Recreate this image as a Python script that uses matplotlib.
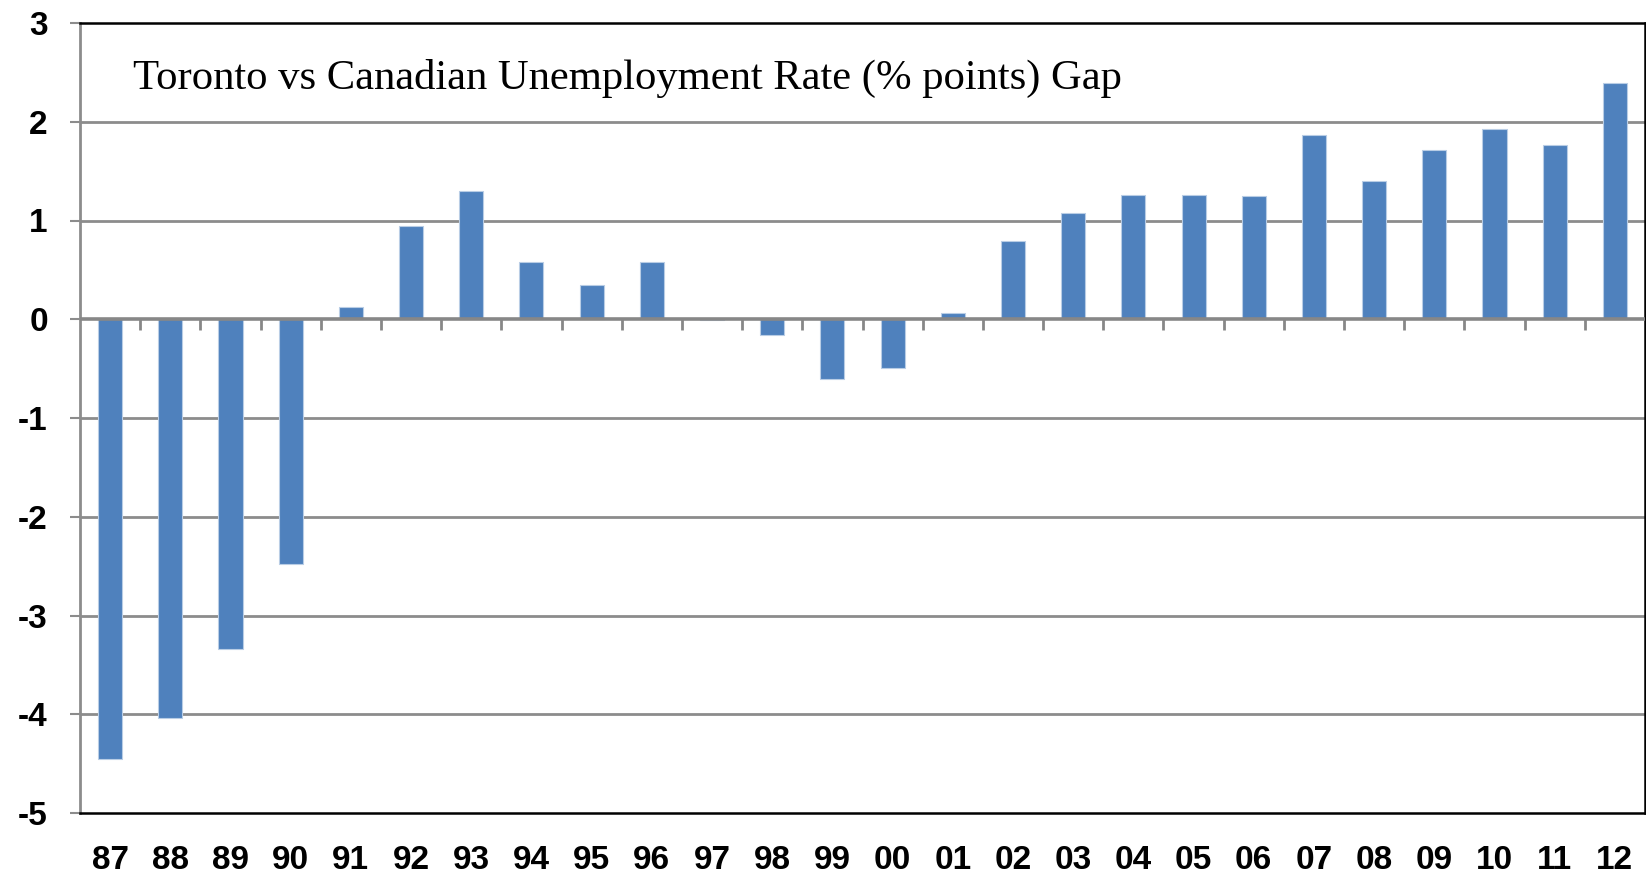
import numpy as np
import matplotlib
matplotlib.use('Agg')
import matplotlib.pyplot as plt

# 年份标签与失业率差值（百分点）
years = ['87', '88', '89', '90', '91', '92', '93', '94', '95', '96', '97', '98', '99',
         '00', '01', '02', '03', '04', '05', '06', '07', '08', '09', '10', '11', '12']
gap = [-4.45, -4.04, -3.34, -2.48, 0.12, 0.94, 1.30, 0.58, 0.35, 0.58, -0.01, -0.16, -0.61,
       -0.49, 0.06, 0.79, 1.08, 1.26, 1.26, 1.25, 1.87, 1.40, 1.71, 1.93, 1.76, 2.39]
y_ticks = [-5, -4, -3, -2, -1, 0, 1, 2, 3]
title = 'Toronto vs Canadian Unemployment Rate (% points) Gap'

fig = plt.figure(figsize=(16.46, 8.77), dpi=100)
ax = fig.add_axes([80 / 1646, 1 - 813 / 877, 1565 / 1646, 790 / 877])

x = np.arange(len(years))
ax.bar(x, gap, width=0.4, color='#4F81BD', edgecolor='#B9CDE5', linewidth=0.8, zorder=3)

ax.set_xlim(-0.5, len(years) - 0.5)
ax.set_ylim(min(y_ticks), max(y_ticks))

# 网格线
for v in y_ticks[1:-1]:
    if v != 0:
        ax.axhline(v, color='#8C8C8C', linewidth=2, zorder=1)
ax.axhline(0, color='#878787', linewidth=2.6, zorder=4)
# 零线上的分类刻度
ax.vlines(x[:-1] + 0.5, 0, -0.11, color='#878787', linewidth=2, zorder=4)

# 边框
for s in ['top', 'right', 'bottom']:
    ax.spines[s].set_color('black')
    ax.spines[s].set_linewidth(1.8)
ax.spines['left'].set_color('#8C8C8C')
ax.spines['left'].set_linewidth(2)

ax.set_yticks(y_ticks)
ax.set_yticklabels([str(v) for v in y_ticks])
ax.tick_params(axis='y', direction='out', length=7.2, width=1.5, color='#8C8C8C', pad=16)
ax.set_xticks(x)
ax.set_xticklabels(years)
ax.tick_params(axis='x', length=0, pad=23)
for lab in ax.get_xticklabels() + ax.get_yticklabels():
    lab.set_fontfamily('Liberation Sans')
    lab.set_fontweight('bold')
    lab.set_fontsize(24)

ax.text((133 - 80) / 1565, 1 - (89 - 23) / 790, title, transform=ax.transAxes,
        fontfamily='Liberation Serif', fontsize=30.7, va='baseline', ha='left', zorder=5)

fig.savefig('out.png', dpi=100)
